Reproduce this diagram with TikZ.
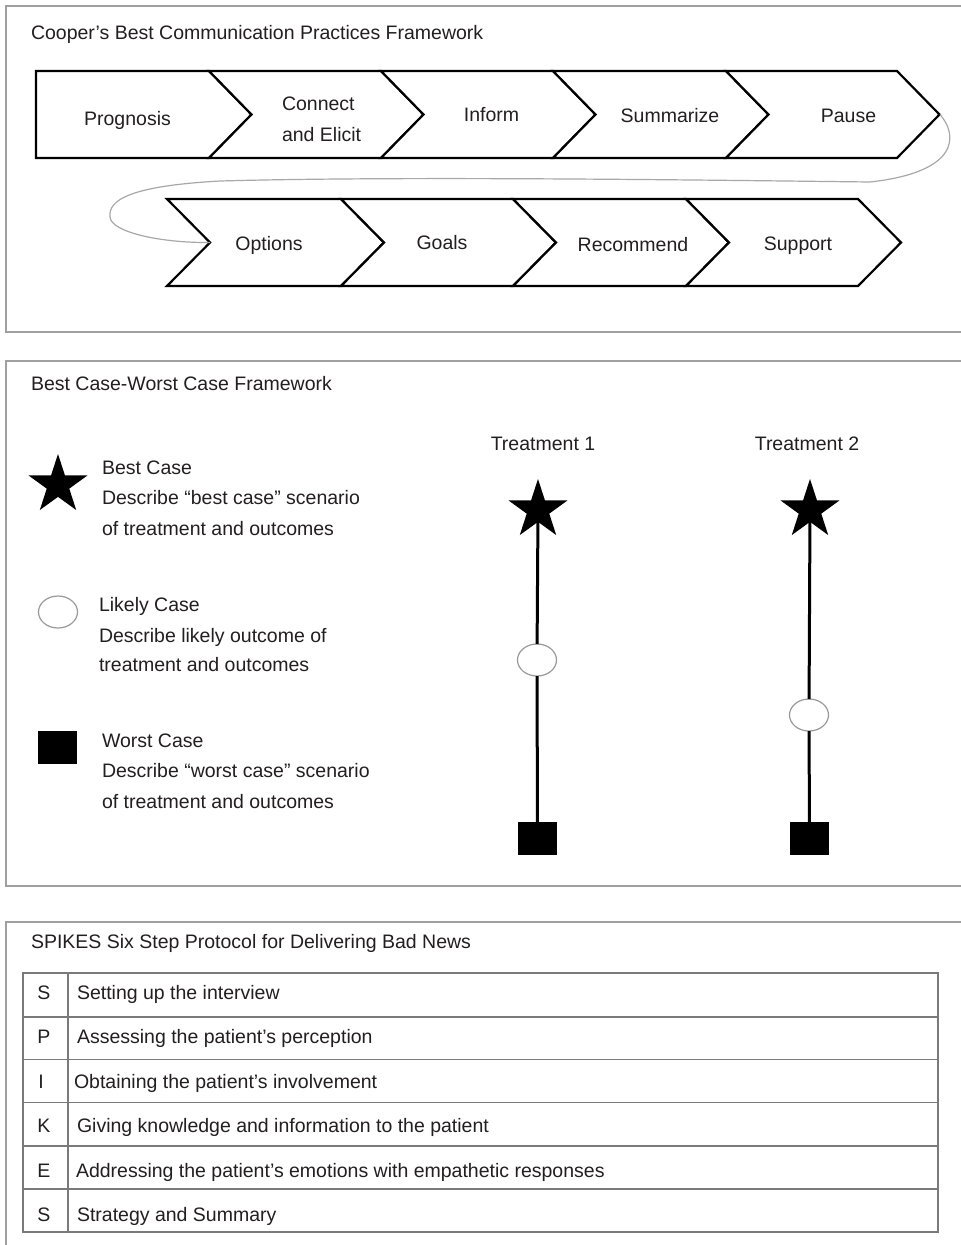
\documentclass[tikz,border=0pt]{standalone}
\usepackage{fontspec}
\setmainfont{Liberation Sans}
\usetikzlibrary{shapes.geometric}
\definecolor{txt}{HTML}{231F20}
\definecolor{panelgray}{HTML}{A0A0A0}
\definecolor{loopgray}{HTML}{A8A8A8}
\definecolor{ellgray}{HTML}{999999}
\definecolor{tablegray}{HTML}{7A7A7A}
\begin{document}
\begin{tikzpicture}[x=1pt,y=-1pt,
  every node/.style={inner sep=0pt, outer sep=0pt, text=txt, font=\fontsize{19.5}{31}\selectfont},
  panel/.style={draw=panelgray, line width=1.5pt},
  chev/.style={draw=black, line width=2.2pt, line join=miter, fill=white},
  lbl/.style={anchor=base},
  ltxt/.style={anchor=base west},
  loopline/.style={draw=loopgray, line width=1.2pt},
  stem/.style={draw=black, line width=3pt},
  bstar/.style={star, star points=5, star point ratio=2.618, fill=black, minimum size=62pt},
  lcase/.style={ellipse, draw=ellgray, line width=1.2pt, fill=white, minimum width=39pt, minimum height=32pt},
  wcase/.style={rectangle, fill=black, minimum width=39pt, minimum height=33pt},
  gridline/.style={draw=tablegray, line width=1.5pt}
]
\fill[white] (0,0) rectangle (961,1245);
\useasboundingbox (0,0) rectangle (961,1245);

% panels
\draw[panel] (965,6) -- (6,6) -- (6,332) -- (965,332);
\draw[panel] (965,361) -- (6,361) -- (6,886) -- (965,886);
\draw[panel] (965,922) -- (6,922) -- (6,1250);

% ---------- Panel 1 ----------
\node[ltxt] (t1) at (31,39.3) {Cooper’s Best Communication Practices Framework};

% top row chevrons
\draw[chev] (36,71) -- (209,71) -- (251.5,114.5) -- (209,158) -- (36,158) -- cycle;
\foreach \a/\b in {209/381, 381/553, 553/726, 726/897}{
  \draw[chev] (\a,71) -- (\b,71) -- (\b+42.5,114.5) -- (\b,158) -- (\a,158) -- (\a+42.5,114.5) -- cycle;
}
% bottom row chevrons
\foreach \a/\b in {167/341, 341/513, 513/686, 686/858}{
  \draw[chev] (\a,199) -- (\b,199) -- (\b+43,242.5) -- (\b,286) -- (\a,286) -- (\a+43,242.5) -- cycle;
}
\coordinate (pausetip) at (940,114.5);
\coordinate (optnotch) at (210,242.5);

\node[lbl] (prog) at (127.5,125) {Prognosis};
\node[anchor=north west, align=left] (conn) at (282,96.8) {Connect\\and Elicit};
\node[lbl] (inf) at (491.5,121) {Inform};
\node[lbl] (summ) at (670,122) {Summarize};
\node[lbl] (paus) at (848.5,122) {Pause};
\node[lbl] (opt) at (269,250) {Options};
\node[lbl] (goal) at (442,249) {Goals};
\node[lbl] (reco) at (633,251) {Recommend};
\node[lbl] (supp) at (798,250) {Support};

\draw[loopline] (pausetip) .. controls (958,135) and (960,172) .. (870,182)
  .. controls (700,180) and (400,176) .. (220,181)
  .. controls (130,186) and (108,200) .. (110,217)
  .. controls (111,232) and (160,243) .. (optnotch);

% ---------- Panel 2 ----------
\node[ltxt] (t2) at (31,390) {Best Case-Worst Case Framework};

\node[bstar] (lgstar) at (58,485) {};
\node[ltxt] (lb1) at (102,474) {Best Case};
\node[ltxt] (lb2) at (102,504) {Describe “best case” scenario};
\node[ltxt] (lb3) at (102,535) {of treatment and outcomes};

\node[lcase] (lgell) at (58,612) {};
\node[ltxt] (ll1) at (99,611) {Likely Case};
\node[ltxt] (ll2) at (99,642) {Describe likely outcome of};
\node[ltxt] (ll3) at (99,671) {treatment and outcomes};

\node[wcase] (lgsq) at (57.5,747.5) {};
\node[ltxt] (lw1) at (102,747) {Worst Case};
\node[ltxt] (lw2) at (102,777.5) {Describe “worst case” scenario};
\node[ltxt] (lw3) at (102,808) {of treatment and outcomes};

\node[lbl] (tr1) at (543,450) {Treatment 1};
\node[lbl] (tr2) at (807,450) {Treatment 2};

\node[bstar] (s1) at (538,510) {};
\node[lcase] (e1) at (537,660) {};
\node[wcase] (q1) at (537.5,838.5) {};
\node[bstar] (s2) at (810,510) {};
\node[lcase] (e2) at (809,715) {};
\node[wcase] (q2) at (809.5,838.5) {};

\draw[stem] (s1) -- (e1);
\draw[stem] (e1) -- (q1);
\draw[stem] (s2) -- (e2);
\draw[stem] (e2) -- (q2);

% ---------- Panel 3 ----------
\node[ltxt] (t3) at (31,948) {SPIKES Six Step Protocol for Delivering Bad News};

\draw[gridline] (23,973) rectangle (938,1232);
\foreach \y in {1017,1059.5,1102.5,1146,1189}{
  \draw[gridline] (23,\y) -- (938,\y);
}
\draw[gridline] (68,973) -- (68,1232);

\node[lbl] (k1) at (44,999) {S};
\node[lbl] (k2) at (44,1043) {P};
\node[lbl] (k3) at (41,1088) {I};
\node[lbl] (k4) at (44,1132) {K};
\node[lbl] (k5) at (44,1177) {E};
\node[lbl] (k6) at (44,1221) {S};

\node[ltxt] (d1) at (77,999) {Setting up the interview};
\node[ltxt] (d2) at (77,1043) {Assessing the patient’s perception};
\node[ltxt] (d3) at (74,1088) {Obtaining the patient’s involvement};
\node[ltxt] (d4) at (77,1132) {Giving knowledge and information to the patient};
\node[ltxt] (d5) at (76,1177) {Addressing the patient’s emotions with empathetic responses};
\node[ltxt] (d6) at (77,1221) {Strategy and Summary};
\end{tikzpicture}
\end{document}
